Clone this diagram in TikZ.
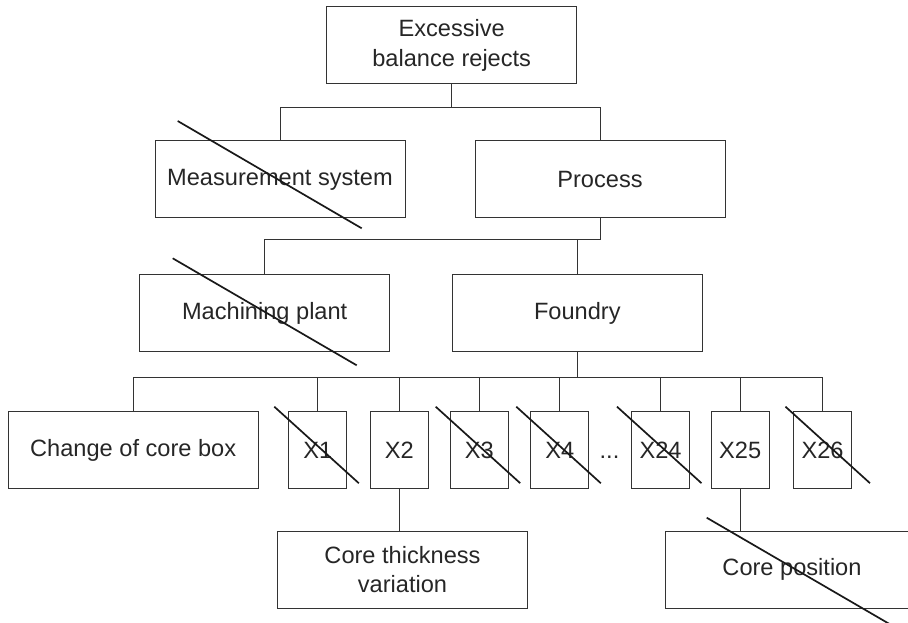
\documentclass[tikz,border=0pt]{standalone}
\usepackage{fontspec}
\setmainfont{Liberation Sans}
\usetikzlibrary{positioning,calc}

\begin{document}
\begin{tikzpicture}[x=1pt, y=-1pt,
    box/.style={draw=black!80, line width=0.9pt, minimum width=250pt, minimum height=77pt, inner sep=0pt, align=center, font=\fontsize{23.6}{29.3}\selectfont, text=black!85},
    xbox/.style={box, minimum width=58pt},
    link/.style={draw=black!80, line width=0.9pt},
    strike/.style={line width=1.7pt, draw=black!90}
  ]
    \useasboundingbox (0,0) rectangle (908,623);

    % top two levels
    \node[box] (rejects) at (451.7,45.3) {Excessive\\balance rejects};
    \node[box] (meas) at (280,179.4) {Measurement system};
    \node[box] (proc) at (600,179.4) {Process};
    \node[box] (mach) at (264.7,313) {Machining plant};
    \node[box] (found) at (577.3,313) {Foundry};

    % foundry causes
    \node[box] (corebox) at (133.2,450.2) {Change of core box};
    \node[xbox] (x1) at (317.8,450.2) {X1};
    \node[xbox] (x2) at (399.2,450.2) {X2};
    \node[xbox] (x3) at (479.2,450.2) {X3};
    \node[xbox] (x4) at (559.8,450.2) {X4};
    \node[inner sep=0pt, font=\fontsize{23.6}{29.3}\selectfont, text=black!85] (dots) at (609.5,450.2) {\vphantom{X}...};
    \node[xbox] (x24) at (660.5,450.2) {X24};
    \node[xbox] (x25) at (740.2,450.2) {X25};
    \node[xbox] (x26) at (822.5,450.2) {X26};

    % bottom level
    \node[box] (thick) at (402.5,569.7) {Core thickness\\variation};
    \node[box, minimum width=253pt] (pos) at (792,569.7) {Core position};

    % bus lines
    \coordinate (busA) at (0,107.5);
    \coordinate (busB) at (0,239.3);
    \coordinate (busC) at (0,377.5);

    \draw[link] (rejects.south) -- (rejects.south |- busA) -| (meas.north);
    \draw[link] (rejects.south |- busA) -| (proc.north);
    \draw[link] (proc.south) -- (proc.south |- busB) -| (mach.north);
    \draw[link] (proc.south |- busB) -| (found.north);
    \draw[link] (found.south) -- (found.south |- busC) -| (corebox.north);
    \draw[link] (found.south |- busC) -| (x26.north);
    \draw[link] (x1.north) -- (x1.north |- busC);
    \draw[link] (x2.north) -- (x2.north |- busC);
    \draw[link] (x3.north) -- (x3.north |- busC);
    \draw[link] (x4.north) -- (x4.north |- busC);
    \draw[link] (x24.north) -- (x24.north |- busC);
    \draw[link] (x25.north) -- (x25.north |- busC);
    \draw[link] (x2.south) -- (x2.south |- thick.north);
    \draw[link] (x25.south) -- (x25.south |- pos.north);

    % struck-out branches
    \draw[strike] ([shift={(-102.3,-58.4)}]meas.center) -- ([shift={(81.7,48.9)}]meas.center);
    \draw[strike] ([shift={(-92,-54.7)}]mach.center) -- ([shift={(92,52.3)}]mach.center);
    \draw[strike] ([shift={(-43.5,-43.5)}]x1.center) -- ([shift={(41,33)}]x1.center);
    \draw[strike] ([shift={(-43.5,-43.5)}]x3.center) -- ([shift={(41,33)}]x3.center);
    \draw[strike] ([shift={(-43.5,-43.5)}]x4.center) -- ([shift={(41,33)}]x4.center);
    \draw[strike] ([shift={(-43.5,-43.5)}]x24.center) -- ([shift={(41,33)}]x24.center);
    \draw[strike] ([shift={(-37,-43.5)}]x26.center) -- ([shift={(47.5,33)}]x26.center);
    \draw[strike] ([shift={(-85.3,-52)}]pos.center) -- ([shift={(98.7,55)}]pos.center);
  \end{tikzpicture}
\end{document}
